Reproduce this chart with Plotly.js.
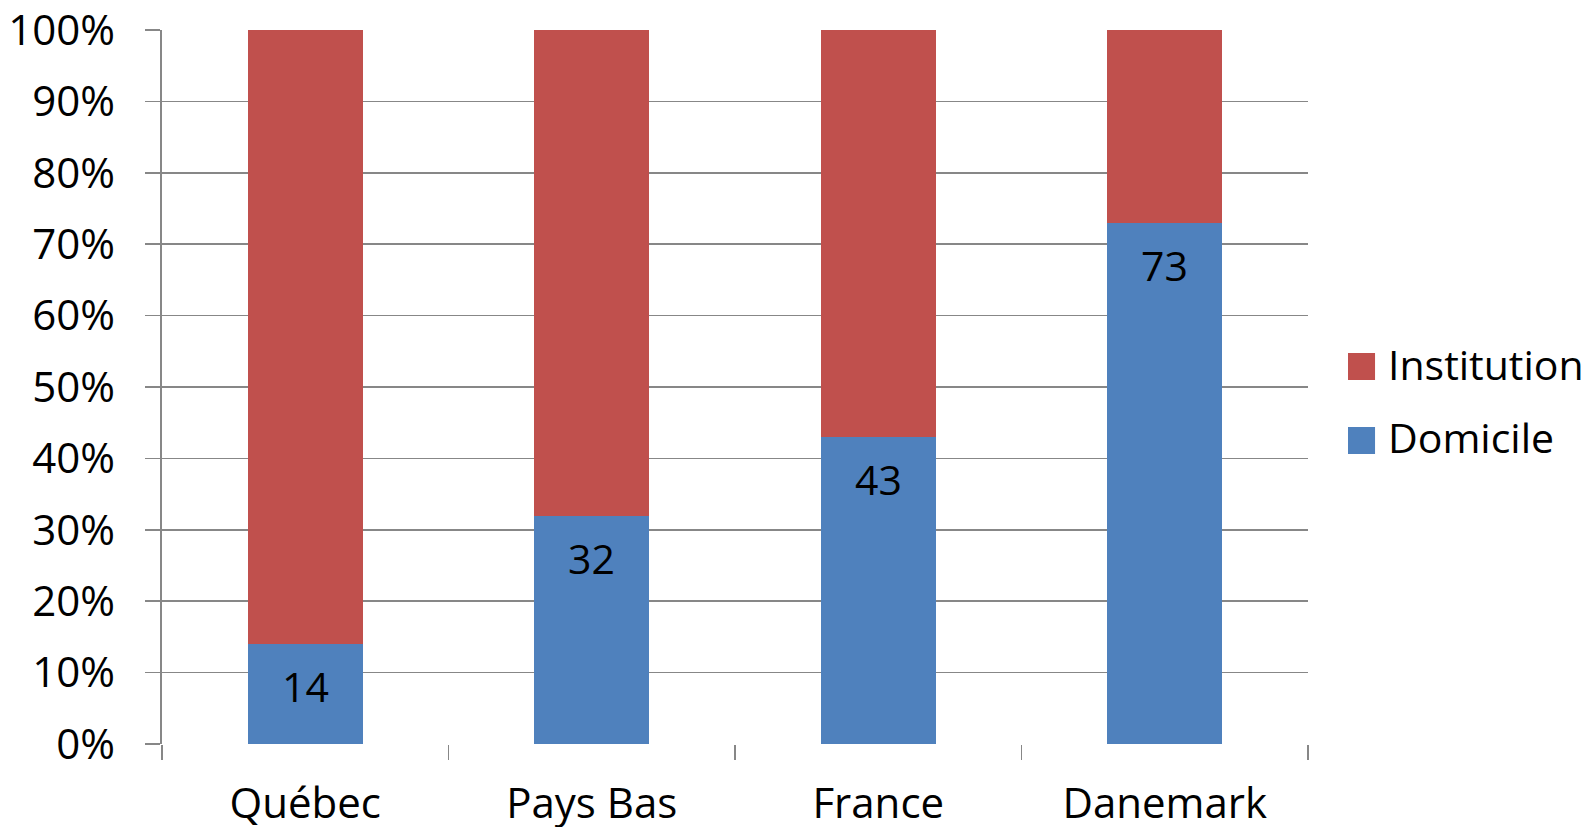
<!DOCTYPE html>
<html>
<head>
<meta charset="utf-8">
<script src="https://cdn.plot.ly/plotly-3.0.1.min.js"></script>
<style>
  html, body { margin: 0; padding: 0; background: #fff; }
  #chart { width: 1591px; height: 827px; }
</style>
</head>
<body>
<div id="chart"></div>
<script>
// Share of care at home vs. in institutions, by country (percent)
const countries = ["Québec", "Pays Bas", "France", "Danemark"];
const domicile = [14, 32, 43, 73];
const institution = [86, 68, 57, 27];
const seriesNames = ["Domicile", "Institution"];
const seriesColors = ["#4F81BD", "#C0504D"];

const FONT = "Open Sans, Noto Sans, sans-serif";
const GRID = "#878787";

const traces = [
  {
    type: "bar", name: seriesNames[0], x: countries, y: domicile,
    marker: { color: seriesColors[0], line: { width: 0 } },
    width: 0.4, hoverinfo: "x+y+name"
  },
  {
    type: "bar", name: seriesNames[1], x: countries, y: institution,
    marker: { color: seriesColors[1], line: { width: 0 } },
    width: 0.4, hoverinfo: "x+y+name"
  }
];

// Value labels just inside the top of each Domicile segment
const valueLabels = countries.map((c, i) => ({
  x: c, y: domicile[i], xref: "x", yref: "y",
  text: String(domicile[i]), showarrow: false,
  yanchor: "middle", yshift: -42,
  font: { family: FONT, size: 41, color: "#000" }
}));

// Hand-drawn legend: Institution listed first, then Domicile
const legendRows = [
  { name: seriesNames[1], color: seriesColors[1], y0: 0.5098, y1: 0.5476 },
  { name: seriesNames[0], color: seriesColors[0], y0: 0.4062, y1: 0.4440 }
];
const legendShapes = legendRows.map(r => ({
  type: "rect", xref: "paper", yref: "paper",
  x0: 1.0349, x1: 1.0585, y0: r.y0, y1: r.y1,
  fillcolor: r.color, line: { width: 0 }
}));
const legendTexts = legendRows.map(r => ({
  xref: "paper", yref: "paper", x: 1.068, y: (r.y0 + r.y1) / 2,
  xanchor: "left", yanchor: "middle", yshift: 3, showarrow: false,
  text: r.name, font: { family: FONT, size: 41, color: "#000" }
}));

const layout = {
  width: 1591, height: 827,
  margin: { l: 162, r: 283, t: 30, b: 83, pad: 0 },
  paper_bgcolor: "#fff", plot_bgcolor: "#fff",
  barmode: "stack",
  showlegend: false,
  font: { family: FONT, size: 40, color: "#000" },
  xaxis: {
    type: "category",
    tickson: "boundaries",
    ticks: "outside", ticklen: 15, tickwidth: 1.6, tickcolor: GRID,
    showline: false, showgrid: false, zeroline: false,
    ticklabelstandoff: 31,
    ticklabeloverflow: "allow",
    tickfont: { family: FONT, size: 42, color: "#000" }
  },
  yaxis: {
    range: [0, 100], dtick: 10, ticksuffix: "%",
    ticks: "outside", ticklen: 15, tickwidth: 1.6, tickcolor: GRID,
    showline: true, linecolor: GRID, linewidth: 1.6,
    showgrid: true, gridcolor: GRID, gridwidth: 1.6,
    zeroline: false,
    ticklabelstandoff: 22,
    ticklabeloverflow: "allow",
    tickfont: { family: FONT, size: 42, color: "#000" }
  },
  shapes: legendShapes,
  annotations: valueLabels.concat(legendTexts)
};

Plotly.newPlot("chart", traces, layout, { displayModeBar: false, staticPlot: true });
</script>
</body>
</html>
